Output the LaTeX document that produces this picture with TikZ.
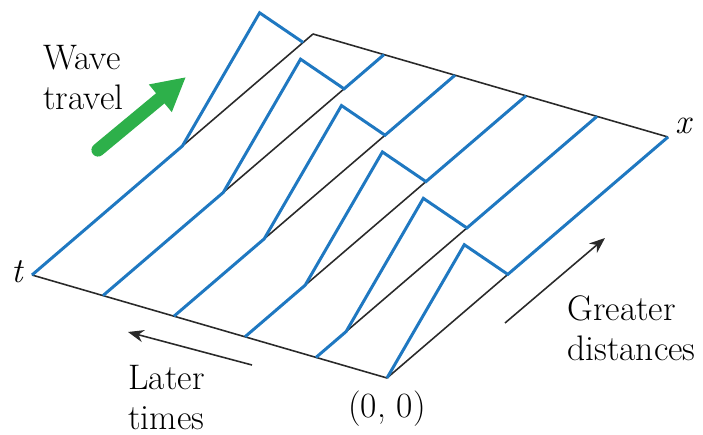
\documentclass[tikz,border=0pt]{standalone}
\usepackage{xcolor}
\usepackage{tikz}
\usetikzlibrary{arrows.meta, positioning, calc}
\definecolor{waveblue}{HTML}{1F78C1}
\definecolor{travelgreen}{HTML}{2DB04A}
\definecolor{rimblack}{HTML}{2A2A2A}

\begin{document}
\begin{tikzpicture}[
    x=0.02cm, y=-0.02cm,
    wave/.style={draw=waveblue, line width=1.7pt, line join=miter},
    rim/.style={draw=rimblack, line width=0.9pt},
    travel/.style={draw=travelgreen, line width=7.5pt, line cap=round, -{Triangle[length=19pt, width=19pt]}},
    pointer/.style={draw=rimblack, line width=0.9pt, -{Stealth[length=9pt, width=7pt]}},
    lbl/.style={font=\fontsize{20.2}{22.7}\selectfont, align=left, inner sep=0pt},
    axlbl/.style={font=\fontsize{20}{22.7}\selectfont\itshape, inner sep=0pt}
]
    \useasboundingbox (0,0) rectangle (703,435);

    % Corners of the sheet
    \coordinate (O) at (387,378);
    \coordinate (T) at (32,275);
    \coordinate (X) at (668,137);
    \coordinate (F) at ($(T)+(X)-(O)$);

    \draw[rim] (O) -- (T);
    \draw[rim] (F) -- (X);

    % Pulse at six instants
    \foreach \k in {0,...,5}{
        \pgfmathsetmacro\sBeg{0.107*\k}
        \pgfmathsetmacro\sTop{\sBeg+0.275}
        \pgfmathsetmacro\sEnd{\sBeg+0.43}
        \coordinate (b\k) at ($(O)!\k/5!(T)$);
        \coordinate (e\k) at ($(b\k)+(281,-241)$);
        \coordinate (p\k) at ($(b\k)+\sBeg*(281,-241)$);
        \coordinate (q\k) at ($(b\k)+\sTop*(281,-241)+(0,-67)$);
        \coordinate (r\k) at ($(b\k)+\sEnd*(281,-241)$);
        \draw[rim] (p\k) -- (e\k);
        \ifnum\k<5
            \draw[wave] (b\k) -- (p\k) -- (q\k) -- (r\k) -- (e\k);
        \else
            \draw[wave] (b\k) -- (p\k) -- (q\k) -- (r\k);
        \fi
    }

    % Nodes
    \node[lbl, anchor=north west] (wave) at (43,45) {Wave\\travel};
    \node[lbl, anchor=north west] (later) at (128,365) {Later\\times};
    \node[lbl, anchor=north west] (greater) at (567,295) {Greater\\distances};
    \node[lbl, below=7pt of O] (origin) {(0, 0)};
    \node[axlbl, left=5pt of T, yshift=2pt] (tlab) {t};
    \node[axlbl] (xlab) at (683,126) {x};

    \coordinate (w1) at (98,150);
    \coordinate (w2) at (186,77);
    \coordinate (lt1) at (252,365);
    \coordinate (lt2) at (128,332);
    \coordinate (gd1) at (505,323);
    \coordinate (gd2) at (605,238);

    % Connections
    \draw[travel] (w1) -- (w2);
    \draw[pointer] (lt1) -- (lt2);
    \draw[pointer] (gd1) -- (gd2);
\end{tikzpicture}
\end{document}
